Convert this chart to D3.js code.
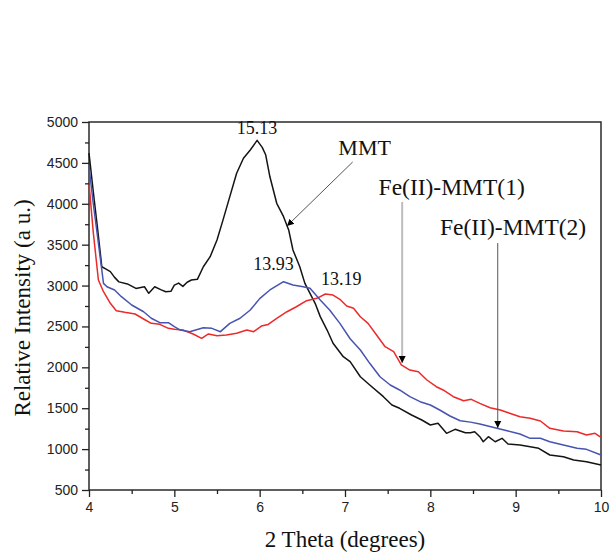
<!DOCTYPE html>
<html>
<head>
<meta charset="utf-8">
<script src="https://cdn.jsdelivr.net/npm/d3@7"></script>
<style>
  html, body { margin: 0; padding: 0; background: #fff; }
  svg { display: block; }
  .tick-label { font-family: "Liberation Sans", Arial, sans-serif; font-size: 14px; fill: #222; }
  .axis-title { font-family: "Liberation Serif", "Times New Roman", serif; fill: #111; }
  .note { font-family: "Liberation Serif", "Times New Roman", serif; fill: #111; }
</style>
</head>
<body>
<svg id="chart" width="611" height="552"></svg>
<script>
// X-ray diffraction patterns: intensity vs 2θ for the clay and two iron-exchanged samples
const xTicks = [4, 5, 6, 7, 8, 9, 10];
const yTicks = [500, 1000, 1500, 2000, 2500, 3000, 3500, 4000, 4500, 5000];

const seriesNames = ["MMT", "Fe(II)-MMT(1)", "Fe(II)-MMT(2)"];
const seriesColors = ["#141414", "#ec2a2a", "#4753b0"];

// [2θ, intensity]
const mmt = [
  [4.00,4620],[4.05,4150],[4.10,3700],[4.15,3230],[4.20,3200],[4.25,3170],[4.30,3100],
  [4.35,3045],[4.45,3020],[4.55,2965],[4.65,2985],[4.70,2905],[4.77,2985],[4.84,2950],
  [4.90,2925],[4.96,2930],[5.00,3005],[5.05,3030],[5.10,2990],[5.15,3040],[5.20,3068],
  [5.27,3076],[5.34,3230],[5.42,3353],[5.50,3557],[5.57,3800],[5.65,4087],[5.73,4373],
  [5.81,4556],[5.89,4658],[5.97,4775],[6.03,4690],[6.07,4600],[6.12,4330],[6.20,4006],
  [6.28,3842],[6.34,3680],[6.39,3435],[6.47,3231],[6.53,3027],[6.59,2905],[6.65,2783],
  [6.71,2620],[6.79,2456],[6.86,2294],[6.98,2130],[7.06,2069],[7.18,1885],[7.29,1784],
  [7.45,1641],[7.55,1539],[7.64,1499],[7.78,1417],[7.90,1356],[8.00,1295],[8.09,1316],
  [8.19,1193],[8.29,1242],[8.41,1201],[8.47,1201],[8.52,1213],[8.58,1152],[8.62,1090],
  [8.68,1152],[8.76,1090],[8.84,1132],[8.91,1062],[9.05,1050],[9.17,1029],[9.27,1010],
  [9.40,928],[9.56,907],[9.68,867],[9.83,846],[10.00,806]
];

const feMmt1 = [
  [4.00,4250],[4.05,3650],[4.11,3068],[4.17,2925],[4.25,2783],[4.32,2693],[4.42,2673],
  [4.54,2652],[4.66,2579],[4.73,2538],[4.83,2526],[4.93,2477],[5.00,2465],[5.10,2456],
  [5.22,2408],[5.32,2355],[5.40,2408],[5.50,2387],[5.61,2396],[5.73,2416],[5.85,2456],
  [5.93,2436],[6.02,2505],[6.10,2525],[6.20,2600],[6.32,2680],[6.43,2741],[6.55,2815],
  [6.67,2844],[6.77,2897],[6.86,2884],[6.94,2832],[7.02,2750],[7.10,2722],[7.18,2619],
  [7.27,2538],[7.37,2396],[7.47,2252],[7.57,2191],[7.66,2029],[7.76,1967],[7.86,1947],
  [7.96,1845],[8.07,1763],[8.15,1723],[8.27,1641],[8.39,1592],[8.48,1609],[8.58,1560],
  [8.70,1506],[8.82,1478],[8.93,1438],[9.05,1396],[9.17,1377],[9.29,1344],[9.40,1254],
  [9.56,1221],[9.72,1213],[9.83,1173],[9.93,1193],[10.00,1144]
];

const feMmt2 = [
  [4.00,4453],[4.05,4000],[4.10,3600],[4.17,3027],[4.21,2986],[4.30,2946],[4.38,2864],
  [4.50,2762],[4.64,2680],[4.73,2600],[4.83,2546],[4.93,2546],[5.00,2497],[5.07,2456],
  [5.18,2436],[5.34,2485],[5.44,2477],[5.54,2436],[5.65,2538],[5.77,2600],[5.89,2701],
  [6.00,2840],[6.12,2946],[6.28,3047],[6.39,3007],[6.51,2986],[6.59,2966],[6.71,2823],
  [6.82,2701],[6.94,2538],[7.06,2350],[7.18,2212],[7.29,2049],[7.41,1885],[7.53,1784],
  [7.64,1723],[7.76,1641],[7.88,1580],[8.00,1539],[8.11,1478],[8.23,1405],[8.35,1347],
  [8.47,1330],[8.58,1307],[8.78,1254],[8.90,1225],[9.05,1185],[9.17,1132],[9.29,1132],
  [9.40,1090],[9.56,1050],[9.72,1010],[9.83,997],[10.00,928]
];

const seriesData = [mmt, feMmt1, feMmt2];

// d-spacing callouts near each peak
const peakLabels = ["15.13", "13.19", "13.93"];

const svg = d3.select("#chart");
const margin = { left: 89, right: 10, top: 122, bottom: 62 };
const W = 611, H = 552;

const x = d3.scaleLinear().domain([4, 10]).range([margin.left, W - margin.right]);
const y = d3.scaleLinear().domain([500, 5000]).range([H - margin.bottom, margin.top]);

// plot frame
svg.append("rect")
  .attr("x", x(4)).attr("y", y(5000))
  .attr("width", x(10) - x(4)).attr("height", y(500) - y(5000))
  .attr("fill", "none").attr("stroke", "#2a2a2a").attr("stroke-width", 1.5);

// curves
const line = d3.line().x(d => x(d[0])).y(d => y(d[1]));
seriesData.forEach((s, i) => {
  svg.append("path")
    .datum(s)
    .attr("d", line)
    .attr("fill", "none")
    .attr("stroke", seriesColors[i])
    .attr("stroke-width", 1.5)
    .attr("stroke-linejoin", "round");
});

// axes
const xAxis = d3.axisBottom(x).tickValues(xTicks).tickSize(7).tickFormat(d3.format("d"));
const xMinor = d3.axisBottom(x).tickValues(d3.range(4.5, 10, 1)).tickSize(4).tickFormat("");
const yAxis = d3.axisLeft(y).tickValues(yTicks).tickSize(7).tickFormat(d3.format("d"));
const yMinor = d3.axisLeft(y).tickValues(d3.range(750, 5000, 500)).tickSize(4).tickFormat("");

function styleAxis(g) {
  g.select(".domain").remove();
  g.selectAll(".tick line").attr("stroke", "#222").attr("stroke-width", 1.3);
  g.selectAll(".tick text").attr("class", "tick-label").attr("fill", null);
}

svg.append("g").attr("transform", `translate(0,${y(500)})`).call(xAxis).call(styleAxis)
  .selectAll(".tick text").attr("dy", "0.95em").attr("y", 9);
svg.append("g").attr("transform", `translate(0,${y(500)})`).call(xMinor).call(styleAxis);
svg.append("g").attr("transform", `translate(${x(4)},0)`).call(yAxis).call(styleAxis)
  .selectAll(".tick text").attr("x", -11);
svg.append("g").attr("transform", `translate(${x(4)},0)`).call(yMinor).call(styleAxis);

// axis titles
svg.append("text").attr("class", "axis-title")
  .attr("x", (x(4) + x(10)) / 2).attr("y", 547)
  .attr("text-anchor", "middle").attr("font-size", 23)
  .text("2 Theta (degrees)");
svg.append("text").attr("class", "axis-title")
  .attr("transform", `translate(30,${(y(500) + y(5000)) / 2 + 2}) rotate(-90)`)
  .attr("text-anchor", "middle").attr("font-size", 23)
  .text("Relative Intensity (a u.)");

// peak d-spacing labels, anchored at each series maximum (after the low-angle edge)
seriesData.forEach((s, i) => {
  const pk = s.filter(d => d[0] > 5.5).reduce((a, b) => (b[1] > a[1] ? b : a));
  const off = [[0, -6], [16, -9], [-10, -12]][i];
  svg.append("text").attr("class", "note")
    .attr("x", x(pk[0]) + off[0]).attr("y", y(pk[1]) + off[1])
    .attr("text-anchor", "middle").attr("font-size", 18)
    .text(peakLabels[i]);
});

// arrow marker
const defs = svg.append("defs");
defs.append("marker").attr("id", "head")
  .attr("viewBox", "0 0 10 10").attr("refX", 10).attr("refY", 5)
  .attr("markerUnits", "userSpaceOnUse")
  .attr("markerWidth", 7).attr("markerHeight", 11).attr("orient", "auto")
  .append("path").attr("d", "M0,0 L10,5 L0,10 Z").attr("fill", "#000");

// series callouts: label position, arrow start and tip in data units
const callouts = [
  { text: seriesNames[0], size: 22, tx: 7.23, ty: 4596, from: [7.09, 4511], to: [6.32, 3728], stroke: "#555", w: 1 },
  { text: seriesNames[1], size: 23.5, tx: 8.25, ty: 4113, from: [7.67, 4022], to: [7.67, 2053], stroke: "#bdbdbd", w: 2 },
  { text: seriesNames[2], size: 23.5, tx: 8.97, ty: 3624, from: [8.79, 3520], to: [8.79, 1258], stroke: "#555", w: 1 }
];
callouts.forEach(c => {
  svg.append("line")
    .attr("x1", x(c.from[0])).attr("y1", y(c.from[1]))
    .attr("x2", x(c.to[0])).attr("y2", y(c.to[1]))
    .attr("stroke", c.stroke).attr("stroke-width", c.w)
    .attr("marker-end", "url(#head)");
  svg.append("text").attr("class", "note")
    .attr("x", x(c.tx)).attr("y", y(c.ty))
    .attr("text-anchor", "middle").attr("font-size", c.size)
    .text(c.text);
});
</script>
</body>
</html>
